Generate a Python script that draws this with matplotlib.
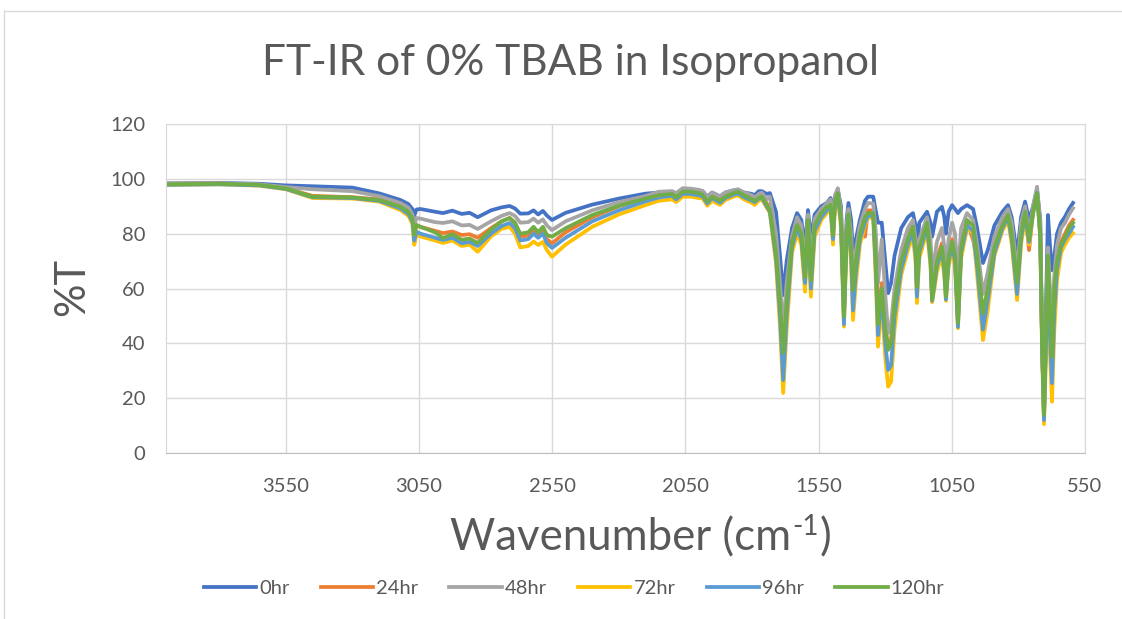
import matplotlib
matplotlib.use("Agg")
import matplotlib.pyplot as plt
from matplotlib.lines import Line2D

plt.rcParams['font.family'] = ['Lato', 'DejaVu Sans']

# ---------------------------------------------------------------- data
# wavenumber grid (cm-1)
wavenumber = [
    4000, 3800, 3650, 3550, 3450, 3300, 3200, 3120, 3090, 3075, 3068, 3060, 3045, 2990, 2960, 2925, 2890,
    2860, 2830, 2780, 2740, 2710, 2690, 2670, 2640, 2620, 2603, 2585, 2570, 2551, 2500, 2400, 2300, 2200,
    2150, 2100, 2085, 2060, 2030, 2000, 1985, 1968, 1950, 1920, 1900, 1870, 1853, 1830, 1800, 1790, 1775,
    1763, 1745,
    1733, 1710, 1695, 1683, 1670, 1650, 1631, 1615, 1601, 1590, 1579, 1565, 1540, 1519, 1505, 1496, 1488,
    1478, 1466, 1455, 1445, 1438, 1428, 1421, 1410, 1395, 1376, 1365, 1345, 1335, 1327, 1313, 1300, 1289,
    1278, 1265, 1240, 1215, 1196, 1186, 1181, 1172, 1143, 1130, 1124, 1112, 1106, 1087, 1078, 1072, 1062,
    1049, 1038, 1027, 1015, 993, 970, 955, 933, 915, 890, 860, 839, 825, 805, 790, 775, 760, 745, 730,
    718, 711, 704, 695, 689, 681, 674, 665, 655, 640, 625, 610, 595,
]

t_0hr = [
    98.3, 98.5, 98.2, 97.6, 97.3, 96.8, 94.7, 92.3, 90.8, 89.0, 86.5, 88.8, 89.0, 88.0, 87.5, 88.4, 87.2,
    87.6, 86.0, 88.5, 89.6, 90.1, 89.2, 87.3, 87.4, 88.5, 87.0, 88.3, 86.6, 85.0, 87.6, 90.6, 92.8, 94.6,
    95.0, 95.3, 94.5, 96.0, 96.2, 95.8, 95.5, 93.5, 95.0, 93.6, 95.0, 95.8, 96.0, 95.0, 94.5, 94.0, 95.5,
    95.5, 94.5,
    94.8, 88.0, 72.0, 57.6, 70.0, 82.0, 87.5, 85.0, 75.2, 88.6, 78.0, 87.0, 90.0, 91.2, 93.0, 88.0, 94.0,
    96.0, 90.0, 55.0, 85.0, 91.2, 85.0, 72.9, 78.0, 85.0, 92.0, 93.5, 93.5, 88.0, 84.0, 84.0, 70.0, 58.3,
    62.0, 72.0, 82.0, 86.0, 87.5, 83.0, 74.0, 84.0, 88.0, 84.0, 78.9, 85.0, 88.0, 89.8, 86.0, 80.0, 88.0,
    90.4, 89.0, 87.5, 89.0, 90.4, 89.0, 82.0, 69.3, 74.0, 83.0, 88.0, 90.4, 86.0, 72.0, 86.0, 91.7, 85.0,
    90.0, 96.0,
    85.0, 40.0, 14.0, 60.0, 86.8, 75.0, 66.7, 72.0, 80.0, 84.0, 86.2, 89.0, 91.2,
]

t_24hr = [
    98.2, 98.3, 97.8, 96.5, 93.8, 93.3, 92.5, 90.3, 88.5, 86.0, 79.5, 83.0, 82.5, 81.0, 80.2, 80.8, 79.5,
    79.8, 78.5, 82.0, 84.5, 85.7, 84.0, 79.0, 79.3, 81.5, 79.5, 81.3, 78.0, 76.5, 80.5, 86.0, 90.0, 93.0,
    94.0, 94.3, 93.5, 95.5, 95.5, 95.0, 94.5, 92.0, 94.0, 92.5, 94.0, 95.0, 95.3, 94.0, 93.0, 92.0, 93.5,
    94.0, 91.0,
    90.0, 75.0, 57.0, 33.0, 55.0, 77.0, 84.0, 80.0, 66.0, 85.5, 65.0, 83.5, 88.0, 90.0, 91.0, 81.0, 92.5,
    95.0, 86.0, 50.0, 81.0, 87.5, 76.0, 60.0, 71.0, 81.0, 78.9, 88.5, 88.5, 72.0, 50.0, 62.0, 48.0, 38.0,
    41.0, 56.0, 71.0, 79.0, 83.0, 76.0, 62.0, 76.0, 84.5, 73.0, 57.0, 67.0, 71.0, 76.5, 69.0, 58.0, 73.0,
    78.0, 73.0, 48.0, 76.0, 84.0, 77.7, 70.0, 50.0, 60.0, 76.0, 83.5, 87.0, 81.0, 63.0, 81.0, 88.5, 74.0,
    88.5, 95.0,
    81.0, 40.0, 13.0, 50.0, 72.0, 52.0, 38.0, 61.0, 71.0, 77.0, 80.0, 83.0, 85.0,
]

t_48hr = [
    98.3, 98.4, 98.0, 97.0, 96.2, 95.5, 93.7, 91.2, 89.5, 87.0, 82.5, 85.7, 85.5, 84.2, 83.9, 84.5, 83.0,
    83.2, 81.7, 84.5, 86.5, 87.5, 86.5, 84.0, 84.2, 85.5, 84.0, 85.2, 83.0, 81.3, 84.5, 88.5, 91.5, 93.7,
    95.3, 95.5, 94.8, 96.6, 96.4, 96.0, 95.5, 93.2, 95.0, 93.5, 95.0, 95.8, 96.2, 95.0, 94.0, 93.0, 94.5,
    95.0, 92.5,
    93.5, 80.0, 62.0, 45.0, 62.0, 79.0, 86.0, 83.0, 70.0, 87.0, 70.0, 85.5, 89.0, 91.0, 92.5, 84.0, 94.0,
    96.6, 88.0, 52.0, 83.0, 89.0, 80.0, 65.0, 74.0, 83.0, 89.0, 91.2, 91.0, 80.0, 62.0, 78.0, 58.0, 43.8,
    47.0, 60.0, 74.0, 82.0, 85.0, 78.0, 66.0, 78.0, 86.0, 78.0, 66.0, 73.0, 77.0, 82.1, 75.0, 68.0, 78.0,
    84.0, 80.0, 65.0, 82.0, 87.5, 85.0, 76.0, 58.0, 66.0, 79.0, 86.0, 89.0, 84.0, 66.0, 84.0, 90.0, 80.0,
    90.0, 97.1,
    84.0, 40.0, 14.0, 52.0, 75.0, 58.0, 50.0, 65.0, 76.0, 82.0, 84.0, 87.0, 89.3,
]

t_72hr = [
    97.8, 98.0, 97.5, 96.2, 93.0, 92.8, 91.7, 88.6, 86.5, 83.5, 75.9, 79.5, 79.0, 77.5, 76.6, 77.5, 75.5,
    76.0, 73.4, 79.0, 81.8, 82.5, 80.0, 75.0, 75.5, 77.1, 75.9, 77.0, 74.0, 71.6, 76.0, 82.5, 87.0, 90.4,
    92.0, 92.5, 91.5, 93.5, 93.5, 93.0, 92.8, 90.2, 92.0, 90.5, 92.3, 93.5, 94.0, 92.5, 91.2, 90.5, 92.0,
    92.5, 89.5,
    87.5, 69.0, 46.0, 21.9, 45.0, 73.0, 80.0, 76.0, 58.8, 80.0, 57.0, 79.0, 85.0, 87.5, 88.5, 76.0, 90.5,
    93.5, 82.0, 46.1, 76.0, 84.0, 69.0, 48.5, 62.0, 76.0, 83.0, 86.0, 85.5, 62.0, 38.8, 55.0, 35.0, 24.2,
    26.0, 45.0, 65.0, 74.0, 78.9, 70.0, 54.7, 71.0, 81.0, 68.0, 55.0, 62.0, 66.0, 72.0, 64.0, 55.5, 68.0,
    74.0, 68.0, 45.5, 71.0, 82.0, 80.0, 65.0, 41.2, 52.0, 72.0, 81.0, 85.0, 76.0, 55.8, 76.0, 86.0, 76.0,
    87.0, 94.5,
    78.0, 36.0, 10.5, 40.0, 55.0, 35.0, 18.7, 45.0, 63.0, 73.0, 76.0, 78.5, 80.2,
]

t_96hr = [
    97.8, 98.0, 97.6, 96.3, 93.3, 93.0, 92.0, 89.2, 87.2, 84.5, 77.5, 80.7, 80.0, 78.5, 77.7, 78.5, 76.5,
    77.0, 75.5, 80.0, 82.8, 83.9, 82.0, 77.5, 78.0, 80.0, 78.5, 80.0, 76.5, 74.8, 78.5, 84.5, 88.5, 91.8,
    93.2, 93.8, 92.5, 94.5, 94.5, 94.0, 93.5, 91.0, 93.0, 91.3, 93.0, 94.2, 94.6, 93.3, 92.0, 91.5, 92.7,
    93.0, 90.0,
    88.0, 71.0, 50.0, 26.6, 50.0, 75.0, 82.0, 78.0, 62.0, 83.0, 60.0, 81.0, 86.0, 88.5, 89.5, 78.0, 91.5,
    94.2, 84.0, 47.0, 78.0, 85.5, 72.0, 52.0, 66.0, 78.0, 84.0, 86.5, 86.5, 66.0, 43.0, 58.0, 40.0, 30.3,
    32.0, 50.0, 67.0, 76.0, 80.5, 72.0, 57.0, 73.0, 82.5, 70.0, 55.5, 64.0, 68.0, 74.0, 66.0, 56.0, 70.0,
    75.5, 70.0, 46.0, 73.0, 83.0, 81.0, 68.0, 45.0, 56.0, 73.0, 82.0, 86.0, 78.0, 58.0, 78.0, 87.0, 77.0,
    87.5, 94.8,
    79.0, 38.0, 12.0, 45.0, 60.0, 42.0, 25.5, 52.0, 67.0, 75.0, 78.0, 80.0, 82.5,
]

t_120hr = [
    98.0, 98.2, 97.8, 96.5, 93.5, 93.2, 92.3, 89.8, 88.0, 85.5, 79.5, 83.2, 82.5, 80.5, 78.4, 79.8, 77.8,
    78.2, 76.6, 81.5, 84.5, 85.7, 84.0, 80.0, 80.5, 82.5, 80.5, 82.5, 79.5, 78.9, 82.0, 86.8, 90.2, 92.8,
    94.0, 94.5, 93.2, 95.3, 95.3, 94.8, 94.2, 91.7, 93.5, 92.0, 93.5, 94.8, 95.3, 94.0, 92.5, 92.0, 93.0,
    93.5, 90.5,
    88.6, 72.9, 55.0, 36.5, 55.0, 77.0, 83.2, 80.0, 64.3, 85.0, 63.0, 83.0, 87.5, 89.8, 90.5, 79.5, 92.0,
    94.8, 85.0, 49.7, 80.0, 87.0, 75.0, 59.4, 70.0, 80.0, 86.0, 87.5, 87.5, 70.0, 47.0, 60.0, 45.0, 37.6,
    40.0, 55.0, 70.0, 78.0, 82.5, 75.0, 60.6, 75.0, 83.9, 72.0, 55.8, 65.6, 70.0, 75.2, 68.0, 57.0, 72.0,
    77.0, 72.0, 47.4, 75.0, 85.0, 83.0, 72.0, 51.0, 60.0, 75.0, 83.0, 86.8, 80.0, 62.0, 80.0, 88.0, 77.7,
    88.0, 94.8,
    80.0, 40.0, 13.9, 50.0, 72.0, 50.0, 35.1, 60.0, 70.0, 76.0, 78.9, 82.0, 83.9,
]

series_labels = ["0hr", "24hr", "48hr", "72hr", "96hr", "120hr"]
series_values = [t_0hr, t_24hr, t_48hr, t_72hr, t_96hr, t_120hr]
colors = ["#4472C4", "#ED7D31", "#A5A5A5", "#FFC000", "#5B9BD5", "#70AD47"]

x_ticks = [3550, 3050, 2550, 2050, 1550, 1050, 550]
y_ticks = [0, 20, 40, 60, 80, 100, 120]

for v in series_values:
    assert len(v) == len(wavenumber), (len(v), len(wavenumber))

TXT = "#595959"

# ---------------------------------------------------------------- figure
W, H = 1122, 619
fig = plt.figure(figsize=(W / 100, H / 100), dpi=100)
ax = fig.add_axes([166 / W, 1 - 453 / H, (1085 - 166) / W, (453 - 124) / H])

for lab, vals, c in zip(series_labels, series_values, colors):
    ax.plot(wavenumber, vals, color=c, lw=2.7, label=lab, solid_joinstyle="round")

ax.set_xlim(4000, 550)
ax.set_ylim(0, 120)
ax.set_xticks(x_ticks)
ax.set_yticks(y_ticks)
ax.grid(True, color="#D9D9D9", lw=1.0)
ax.set_axisbelow(True)
ax.tick_params(length=0, labelsize=14.5, colors=TXT, pad=15)
ax.tick_params(axis="x", pad=18)
for side in ["top", "right", "left"]:
    ax.spines[side].set_color("#D9D9D9")
ax.spines["bottom"].set_color("#BFBFBF")

fig.text(570 / W, 1 - 63 / H, "FT-IR of 0% TBAB in Isopropanol", ha="center", va="center",
         fontsize=30.5, color=TXT)
fig.text(72 / W, 1 - 287 / H, "%T", ha="center", va="center", rotation=90,
         fontsize=30, color=TXT)

# x label with a plain hyphen superscript, like the source
r = fig.canvas.get_renderer()
x0 = 450 / W
yb = 1 - 550 / H
t1 = fig.text(x0, yb, "Wavenumber (cm", ha="left", va="baseline", fontsize=31.5, color=TXT)
bb = t1.get_window_extent(r)
t2 = fig.text(bb.x1 / W + 1 / W, yb + 15 / H, "-1", ha="left", va="baseline", fontsize=20, color=TXT)
bb2 = t2.get_window_extent(r)
fig.text(bb2.x1 / W + 1 / W, yb, ")", ha="left", va="baseline", fontsize=31.5, color=TXT)

handles = [Line2D([], [], color=c, lw=2.7) for c in colors]
fig.legend(handles, series_labels, loc="center", bbox_to_anchor=(574 / W, 1 - 588 / H), ncol=6,
           frameon=False, fontsize=14.5, handlelength=2.6, handletextpad=0.15, columnspacing=1.55,
           labelcolor=TXT)

# chart border (top and left visible)
fig.add_artist(Line2D([4 / W, 1], [1 - 11 / H, 1 - 11 / H], transform=fig.transFigure, color="#D9D9D9", lw=1))
fig.add_artist(Line2D([4 / W, 4 / W], [0, 1 - 11 / H], transform=fig.transFigure, color="#D9D9D9", lw=1))

fig.savefig("out.png", dpi=100)
